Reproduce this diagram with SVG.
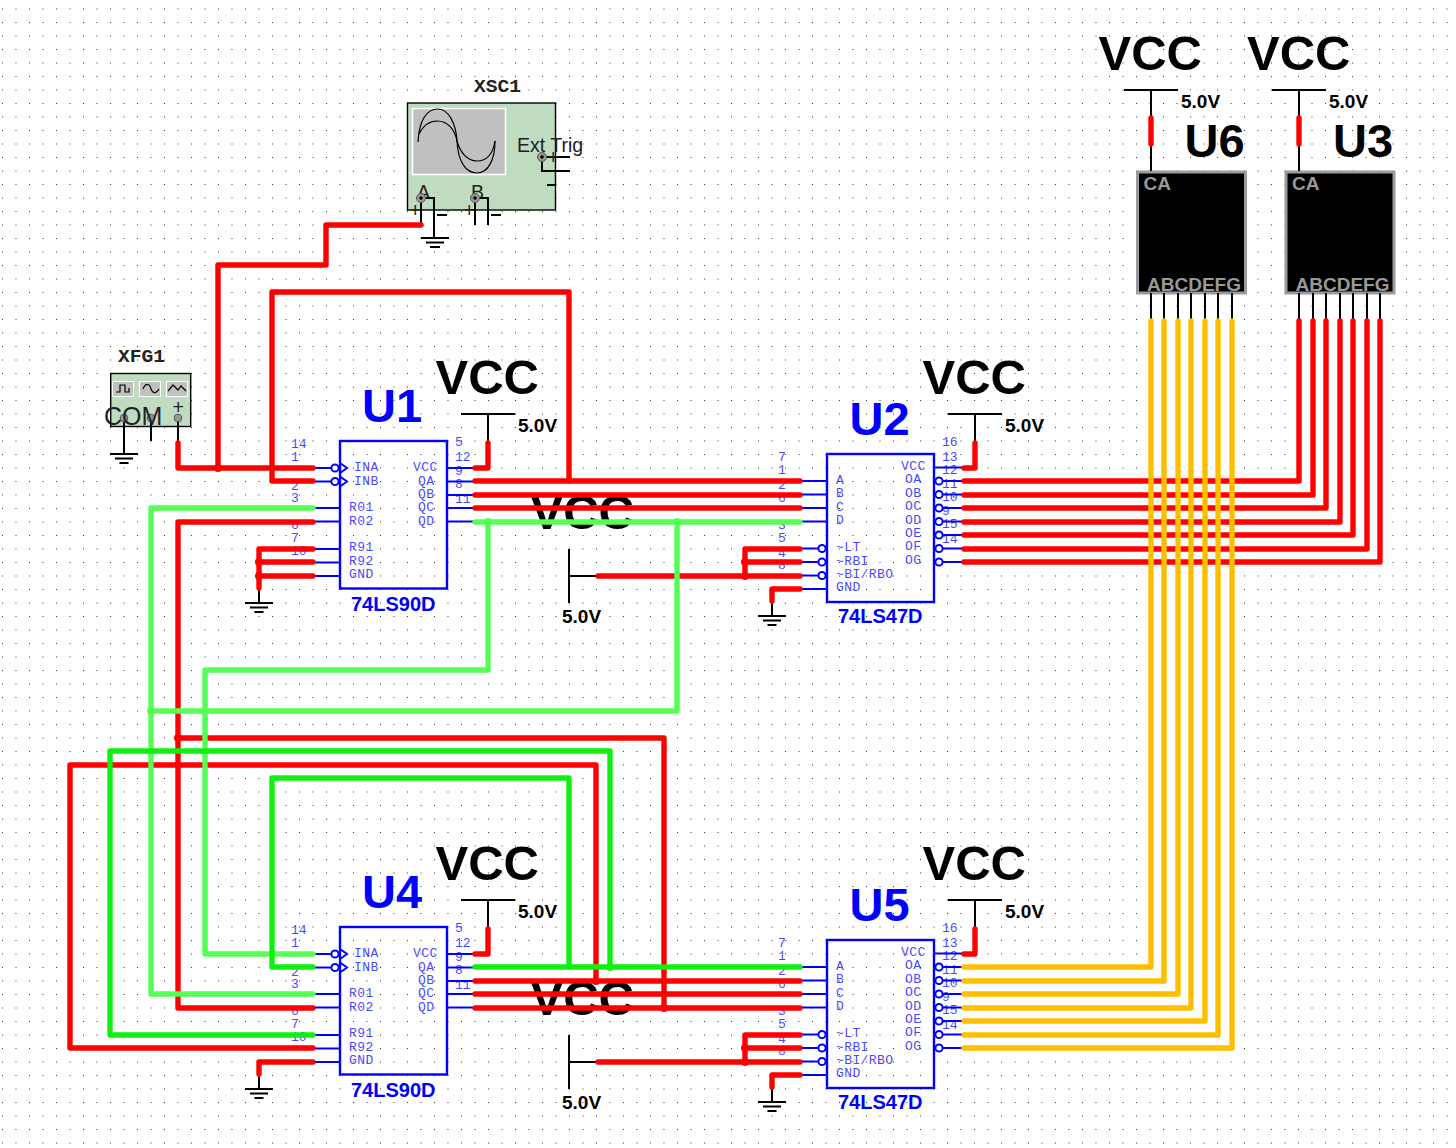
<svg xmlns="http://www.w3.org/2000/svg" xmlns:xlink="http://www.w3.org/1999/xlink" width="1456" height="1148" viewBox="0 0 1456 1148">
<style>
text{font-family:"Liberation Sans",Arial,sans-serif}
.vcc{font-size:49px;font-weight:700;fill:#000}
.volt{font-size:19px;font-weight:700;fill:#000}
.ref{font-size:47px;font-weight:700;fill:#0000ff}
.refk{font-size:47px;font-weight:700;fill:#000}
.part{font-size:20px;font-weight:700;fill:#0000ff}
.pn{font-family:"Liberation Mono",monospace;font-size:13px;fill:#0000ff;opacity:.72}
.nm{font-family:"Liberation Mono",monospace;font-size:13px;fill:#0000ff;opacity:.72;letter-spacing:.4px}
.ttl{font-family:"Liberation Mono",monospace;font-size:18px;font-weight:700;fill:#222}
.seg{font-size:19px;font-weight:700;fill:#999}
.ins{font-size:19.500px;fill:#222}
.box{fill:none;stroke:#0000ff;stroke-width:2.400}
.pin{stroke:#0000ff;stroke-width:2;fill:none}
.bub{fill:#fff;stroke:#0000ff;stroke-width:2}
.k{stroke:#000;stroke-width:2;fill:none}
.disp{fill:#000;stroke:#9a9aa0;stroke-width:3}
.inst{fill:#c0dcc0;stroke:#000;stroke-width:1.400}
.term{fill:#999;stroke:#555;stroke-width:1}
.w{fill:none;stroke-width:5.400;stroke-linecap:round;stroke-linejoin:round}
.r{stroke:#ff0000}.lg{stroke:#55ff55}.g{stroke:#10f010}.o{stroke:#ffbf00}
.jr{fill:#ff0000}.jl{fill:#55ff55}.jg{fill:#10f010}
</style>
<defs>
<pattern id="grid" patternUnits="userSpaceOnUse" x="2" y="8.500" width="13.500" height="13.500"><rect width="1" height="1" fill="#333"/></pattern>
<g id="gnd"><path class="k" d="M-14 0H14M-9 4.500H9M-4.500 9H4.500"/></g>
<g id="inv"><circle class="bub" cx="-5" cy="0" r="3.600"/><path class="pin" d="M0 -5L7 0L0 5"/></g>
<g id="u90">
<path class="pin" d="M-27 27H-8M-27 40.500H-8M-27 67H0M-27 80.500H0M-27 108H0M-27 121.500H0M-27 135H0M107 27H135M107 40.500H135M107 54H135M107 67H135M107 80.500H135"/>
<use xlink:href="#inv" x="0" y="27"/><use xlink:href="#inv" x="0" y="40.500"/>
<rect class="box" x="0" y="0" width="107" height="147.500"/>
<text class="nm" x="14" y="30">INA</text><text class="nm" x="14" y="44">INB</text>
<text class="nm" x="9" y="70">R01</text><text class="nm" x="9" y="84">R02</text>
<text class="nm" x="9" y="110">R91</text><text class="nm" x="9" y="124">R92</text><text class="nm" x="9" y="137">GND</text>
<text class="nm" x="73" y="30">VCC</text><text class="nm" x="78" y="44">QA</text><text class="nm" x="78" y="57">QB</text><text class="nm" x="78" y="70">QC</text><text class="nm" x="78" y="84">QD</text>
<text class="pn" x="-49" y="7">14</text><text class="pn" x="-49" y="20">1</text><text class="pn" x="-49" y="49">2</text><text class="pn" x="-49" y="61">3</text><text class="pn" x="-49" y="88">6</text><text class="pn" x="-49" y="101">7</text><text class="pn" x="-49" y="114">10</text>
<text class="pn" x="115" y="5">5</text><text class="pn" x="115" y="20">12</text><text class="pn" x="115" y="34">9</text><text class="pn" x="115" y="47">8</text><text class="pn" x="115" y="62">11</text>
<text class="part" x="11" y="170">74LS90D</text>
</g>
<g id="u47">
<path class="pin" d="M-27 27H0M-27 40.500H0M-27 54H0M-27 67.500H0M-27 94.500H-8M-27 108H-8M-27 121.500H-8M-27 135H0M107 13.500H137M112 27H137M112 40.500H137M112 54H137M112 67.500H137M112 81H137M112 94.500H137M112 108H137"/>
<circle class="bub" cx="-5" cy="94.500" r="3.600"/><circle class="bub" cx="-5" cy="108" r="3.600"/><circle class="bub" cx="-5" cy="121.500" r="3.600"/>
<circle class="bub" cx="112" cy="27" r="3.600"/><circle class="bub" cx="112" cy="40.500" r="3.600"/><circle class="bub" cx="112" cy="54" r="3.600"/><circle class="bub" cx="112" cy="67.500" r="3.600"/><circle class="bub" cx="112" cy="81" r="3.600"/><circle class="bub" cx="112" cy="94.500" r="3.600"/><circle class="bub" cx="112" cy="108" r="3.600"/>
<rect class="box" x="0" y="0" width="107" height="148"/>
<text class="nm" x="9" y="30">A</text><text class="nm" x="9" y="43">B</text><text class="nm" x="9" y="57">C</text><text class="nm" x="9" y="70">D</text>
<text class="nm" x="9" y="97">~LT</text><text class="nm" x="9" y="111">~RBI</text><text class="nm" x="9" y="124">~BI/RBO</text><text class="nm" x="9" y="137">GND</text>
<text class="nm" x="74" y="16">VCC</text><text class="nm" x="78" y="29">OA</text><text class="nm" x="78" y="43">OB</text><text class="nm" x="78" y="56">OC</text><text class="nm" x="78" y="70">OD</text><text class="nm" x="78" y="83">OE</text><text class="nm" x="78" y="96">OF</text><text class="nm" x="78" y="110">OG</text>
<text class="pn" x="-49" y="7">7</text><text class="pn" x="-49" y="20">1</text><text class="pn" x="-49" y="35">2</text><text class="pn" x="-49" y="48">6</text><text class="pn" x="-49" y="75">3</text><text class="pn" x="-49" y="88">5</text><text class="pn" x="-49" y="103">4</text><text class="pn" x="-49" y="115">8</text>
<text class="pn" x="115" y="-8">16</text><text class="pn" x="115" y="7">13</text><text class="pn" x="115" y="20">12</text><text class="pn" x="115" y="34">11</text><text class="pn" x="115" y="47">10</text><text class="pn" x="115" y="61">9</text><text class="pn" x="115" y="74">15</text><text class="pn" x="115" y="89">14</text>
<text class="part" x="11" y="169">74LS47D</text>
</g>
<g id="disp">
<rect class="disp" x="0" y="0" width="108" height="121"/>
<text class="seg" x="6" y="18">CA</text>
<text class="seg" x="9.500" y="119">ABCDEFG</text>
</g>
<g id="src">
<path class="k" d="M0 -27V27M0 0H27"/>
<text class="volt" x="-7" y="47">5.0V</text>
</g>
<g id="rail">
<path class="k" d="M-27 0H27M0 0V27"/>
<text class="volt" x="30" y="18">5.0V</text>
</g>
</defs>
<rect width="1456" height="1148" fill="#fff"/>
<rect width="1456" height="1148" fill="url(#grid)"/>

<g id="XSC1">
<text class="ttl" x="474" y="92" textLength="47" lengthAdjust="spacingAndGlyphs">XSC1</text>
<rect class="inst" x="407.500" y="103" width="148" height="107"/>
<rect x="412.500" y="108.500" width="93" height="66" fill="#c0c0c0" stroke="#fff" stroke-width="1.500"/>
<path fill="none" stroke="#000" stroke-width="1.200" d="M418 142C419 120 427 109 437.500 109C449 109 456 124 457 141C458 162 466 173 477 173C488 173 495 160 495 141"/>
<path fill="none" stroke="#000" stroke-width="1.200" d="M419 134C423 126 430 121 437.500 121C448 121 455 130 457 141C460 152 467 161 477 161C487 161 493 153 495 141"/>
<text class="ins" x="517" y="152">Ext Trig</text>
<path class="k" d="M542 157H570M542 157V171H570"/>
<circle class="term" cx="542" cy="157" r="4.500"/><circle cx="542" cy="157" r="1.800"/>
<text class="ins" x="417" y="199">A</text><text class="ins" x="471" y="199">B</text>
<path class="k" d="M421 198V225M421 198H434V238M475 198V225M475 198H488V225"/>
<path class="k" d="M421 238H449M426 242.500H444M430 247H440"/>
<circle class="term" cx="421" cy="198" r="4.500"/><circle cx="421" cy="198" r="1.800"/>
<circle class="term" cx="475" cy="198" r="4.500"/><circle cx="475" cy="198" r="1.800"/>
<text class="ins" x="409.500" y="217">+</text><text class="ins" x="463.500" y="217">+</text>
<text class="ins" x="547.500" y="164">+</text>
<path class="k" d="M437 215H447M491 215H501M547 185H556"/>
</g>

<g id="XFG1">
<text class="ttl" x="118" y="362" textLength="47" lengthAdjust="spacingAndGlyphs">XFG1</text>
<rect class="inst" x="110.700" y="373.500" width="80" height="53"/>
<g fill="#c0c0c0" stroke="#fff" stroke-width="1"><rect x="112.500" y="381.500" width="21" height="15"/><rect x="139.500" y="381.500" width="21" height="15"/><rect x="166.500" y="381.500" width="21" height="15"/></g>
<g fill="none" stroke="#000" stroke-width="1.200"><path d="M116 392H120V385H125V392H129V388"/><path d="M143 389C146 382 150 384 151 389C153 394 156 394 159 389"/><path d="M168 391L173 385L178 390L181 386L186 391"/></g>
<path class="k" d="M124 418V453M151 418V441M178 418V441"/>
<use xlink:href="#gnd" x="124" y="454"/>
<circle class="term" cx="124" cy="418" r="3.800"/><circle class="term" cx="151" cy="418" r="3.800"/><circle class="term" cx="178" cy="418" r="3.800"/>
<text class="ins" x="172.500" y="414">+</text>
<text x="104" y="425" font-size="25" fill="#222">COM</text>
</g>

<g id="U1"><use xlink:href="#u90" x="340" y="441"/><text class="ref" x="362" y="422">U1</text></g>
<g id="U2"><use xlink:href="#u47" x="827" y="454"/><text class="ref" x="849.500" y="435">U2</text></g>
<g id="U4"><use xlink:href="#u90" x="340" y="927"/><text class="ref" x="362" y="908">U4</text></g>
<g id="U5"><use xlink:href="#u47" x="827" y="940"/><text class="ref" x="849.500" y="921">U5</text></g>

<g id="U6">
<use xlink:href="#disp" x="1137.500" y="172"/>
<path class="k" d="M1151 293V319M1164 293V319M1178 293V319M1191 293V319M1205 293V319M1218 293V319M1232 293V319"/>
<text class="refk" x="1184.500" y="157">U6</text>
</g>
<g id="U3">
<use xlink:href="#disp" x="1286" y="172"/>
<path class="k" d="M1299 293V319M1313 293V319M1326 293V319M1340 293V319M1353 293V319M1367 293V319M1380 293V319"/>
<text class="refk" x="1333" y="157">U3</text>
</g>

<g id="VCC1"><text class="vcc" x="435.500" y="394">VCC</text><use xlink:href="#rail" x="488" y="414"/></g>
<g id="VCC2"><text class="vcc" x="922.500" y="394">VCC</text><use xlink:href="#rail" x="975" y="414"/></g>
<g id="VCC3"><text class="vcc" x="435.500" y="880">VCC</text><use xlink:href="#rail" x="488" y="900"/></g>
<g id="VCC4"><text class="vcc" x="922.500" y="880">VCC</text><use xlink:href="#rail" x="975" y="900"/></g>
<g id="VCC5"><text class="vcc" x="1098.500" y="70">VCC</text><use xlink:href="#rail" x="1151" y="90"/><path class="k" d="M1151 116V171"/></g>
<g id="VCC6"><text class="vcc" x="1247" y="70">VCC</text><use xlink:href="#rail" x="1299" y="90"/><path class="k" d="M1299 116V171"/></g>
<g id="VCC7"><text class="vcc" x="530.500" y="529">VCC</text><use xlink:href="#src" x="569" y="576"/></g>
<g id="VCC8"><text class="vcc" x="530.500" y="1015">VCC</text><use xlink:href="#src" x="569" y="1062"/></g>

<g id="GND1"><path class="k" d="M259 588V602"/><use xlink:href="#gnd" x="259" y="603"/></g>
<g id="GND2"><path class="k" d="M772 601V616"/><use xlink:href="#gnd" x="772" y="616"/></g>
<g id="GND3"><path class="k" d="M259 1074V1089"/><use xlink:href="#gnd" x="259" y="1089"/></g>
<g id="GND4"><path class="k" d="M772 1087V1102"/><use xlink:href="#gnd" x="772" y="1102"/></g>

<g id="connectors">
<g class="w r">
<path d="M421 225H326V265H218V468"/>
<path d="M178 443V468H313"/>
<path d="M313 481H272V292H569V481"/>
<path d="M475 481H800M475 495H800M475 508H800"/>
<path d="M475 468H488V443"/>
<path d="M313 522H178V1008H313"/>
<path d="M178 738H664V1008"/>
<path d="M313 549H259V588M313 562H259M313 576H259"/>
<path d="M800 549H745V576M800 562H745M800 576H598"/>
<path d="M800 589H772V601"/>
<path d="M964 468H975V443"/>
<path d="M964 481H1299V321M964 495H1313V321M964 508H1326V321M964 522H1340V321M964 535H1353V321M964 549H1367V321M964 562H1380V321"/>
<path d="M1151 118V144M1299 118V144"/>
<path d="M475 954H488V929"/>
<path d="M475 981H800M475 994H800M475 1008H800"/>
<path d="M313 1048H70V765H596V981"/>
<path d="M313 1062H259V1074"/>
<path d="M800 1035H745V1062M800 1048H745M800 1062H598"/>
<path d="M800 1075H772V1087"/>
<path d="M964 954H975V929"/>
</g>
<g class="w lg">
<path d="M313 508H151V994H313"/>
<path d="M151 711H677V522"/>
<path d="M475 522H800"/>
<path d="M488 522V670H205V954H313"/>
</g>
<g class="w g">
<path d="M313 967H272V778H569V967"/>
<path d="M313 1035H110V751H610V967"/>
<path d="M475 967H800"/>
</g>
<g class="w o">
<path d="M964 967H1151V321M964 981H1164V321M964 994H1178V321M964 1008H1191V321M964 1021H1205V321M964 1035H1218V321M964 1048H1232V321"/>
</g>
<g class="jr"><circle cx="218" cy="468" r="4"/><circle cx="259" cy="562" r="4"/><circle cx="259" cy="576" r="4"/><circle cx="745" cy="562" r="4"/><circle cx="745" cy="576" r="4"/><circle cx="178" cy="738" r="4"/><circle cx="596" cy="981" r="4"/><circle cx="664" cy="1008" r="4"/><circle cx="745" cy="1048" r="4"/><circle cx="745" cy="1062" r="4"/></g>
<g class="jl"><circle cx="488" cy="522" r="4"/><circle cx="677" cy="522" r="4"/><circle cx="151" cy="711" r="4"/></g>
<g class="jg"><circle cx="610" cy="967" r="4"/></g>
</g>
</svg>
